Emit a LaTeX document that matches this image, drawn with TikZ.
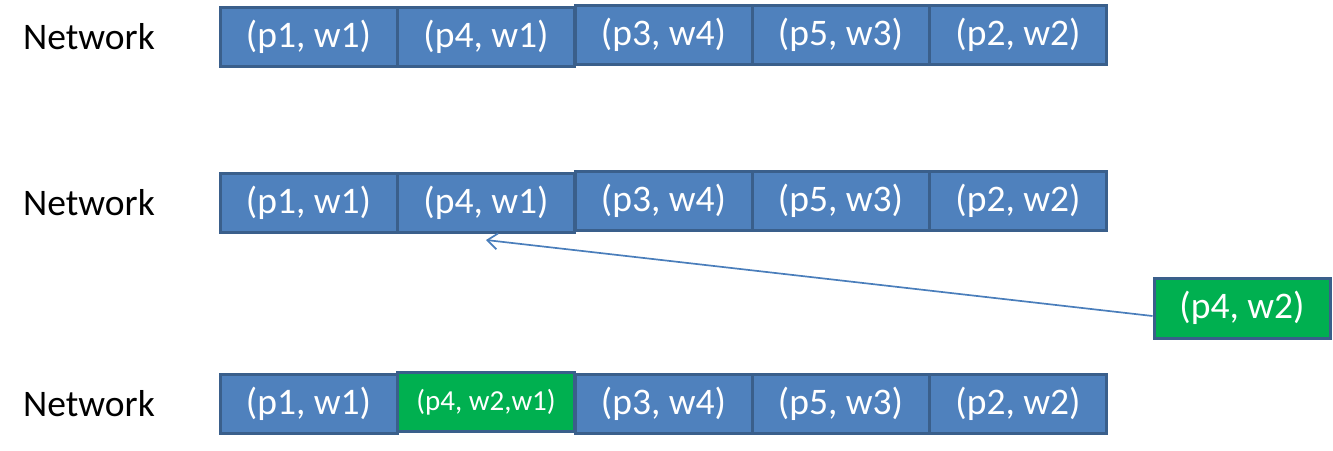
\documentclass[tikz,border=0pt]{standalone}
\usepackage{fontspec}
\setmainfont{Carlito}
\usetikzlibrary{arrows.meta}
\definecolor{cellblue}{HTML}{4F81BD}
\definecolor{cellline}{HTML}{3A5F8B}
\definecolor{cellgreen}{HTML}{00B050}
\definecolor{arrowblue}{HTML}{4A7EBB}
\tikzset{
  cell/.style={draw=cellline, fill=cellblue, line width=3pt, text=white,
    minimum width=177pt, minimum height=59pt, inner sep=0pt,
    font=\fontsize{37.5}{42}\selectfont},
  newcell/.style={cell, fill=cellgreen},
  rowlabel/.style={anchor=west, inner sep=0pt, font=\fontsize{37.5}{42}\selectfont}
}
\begin{document}
\begin{tikzpicture}[x=1pt, y=-1pt]
        \useasboundingbox (0,0) rectangle (1333,450);

        % first row
        \node[rowlabel] (label1) at (23,37) {Network};
        \node[cell] (r1c1) at (308.5,37) {(p1, w1)};
        \node[cell] (r1c2) at (486,37) {(p4, w1)};
        \node[cell] (r1c3) at (663.5,35) {(p3, w4)};
        \node[cell] (r1c4) at (840.5,35) {(p5, w3)};
        \node[cell] (r1c5) at (1018,35) {(p2, w2)};

        % second row
        \node[rowlabel] (label2) at (23,203) {Network};
        \node[cell] (r2c1) at (308.5,203) {(p1, w1)};
        \node[cell] (r2c2) at (486,203) {(p4, w1)};
        \node[cell] (r2c3) at (663.5,201) {(p3, w4)};
        \node[cell] (r2c4) at (840.5,201) {(p5, w3)};
        \node[cell] (r2c5) at (1018,201) {(p2, w2)};

        % incoming pair
        \node[newcell, minimum width=176pt, minimum height=60pt] (incoming) at (1242,308) {(p4, w2)};
        \coordinate (arrowstart) at ([yshift=-8pt]incoming.west);
        \coordinate (arrowend) at ([yshift=-6pt]r2c2.south);
        \draw[arrowblue, line width=1.7pt, -{Straight Barb[length=10pt, width=16pt]}] (arrowstart) -- (arrowend);

        % third row
        \node[rowlabel] (label3) at (23,404) {Network};
        \node[cell] (r3c1) at (308.5,404) {(p1, w1)};
        \node[cell] (r3c3) at (663.5,404) {(p3, w4)};
        \node[cell] (r3c4) at (840.5,404) {(p5, w3)};
        \node[cell] (r3c5) at (1018,404) {(p2, w2)};
        \node[newcell, font=\fontsize{29}{33}\selectfont] (r3c2) at (486,402) {(p4, w2,w1)};
    \end{tikzpicture}
\end{document}
